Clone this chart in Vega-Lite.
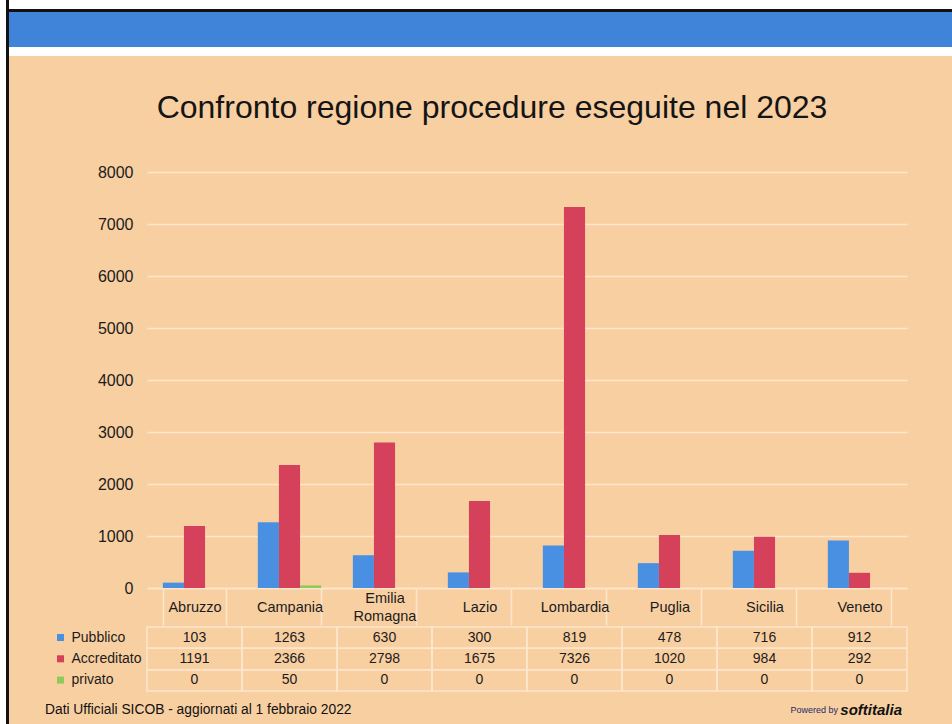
{
  "$schema": "https://vega.github.io/schema/vega-lite/v6.json",
  "padding": 0,
  "background": "#F8CFA1",
  "spacing": 0,
  "config": {
    "view": {"stroke": null},
    "font": "Liberation Sans",
    "axis": {"labelFont": "Liberation Sans", "labelColor": "#1c1c1c"},
    "legend": {"labelFont": "Liberation Sans"},
    "title": {"font": "Liberation Sans", "fontWeight": "normal", "fontSize": 32, "color": "#141414"},
    "text": {"font": "Liberation Sans", "color": "#1c1c1c"}
  },
  "datasets": {
    "procedure": [
      {"region": "Abruzzo", "series": "Pubblico", "value": 103},
      {"region": "Campania", "series": "Pubblico", "value": 1263},
      {"region": "Emilia Romagna", "series": "Pubblico", "value": 630},
      {"region": "Lazio", "series": "Pubblico", "value": 300},
      {"region": "Lombardia", "series": "Pubblico", "value": 819},
      {"region": "Puglia", "series": "Pubblico", "value": 478},
      {"region": "Sicilia", "series": "Pubblico", "value": 716},
      {"region": "Veneto", "series": "Pubblico", "value": 912},
      {"region": "Abruzzo", "series": "Accreditato", "value": 1191},
      {"region": "Campania", "series": "Accreditato", "value": 2366},
      {"region": "Emilia Romagna", "series": "Accreditato", "value": 2798},
      {"region": "Lazio", "series": "Accreditato", "value": 1675},
      {"region": "Lombardia", "series": "Accreditato", "value": 7326},
      {"region": "Puglia", "series": "Accreditato", "value": 1020},
      {"region": "Sicilia", "series": "Accreditato", "value": 984},
      {"region": "Veneto", "series": "Accreditato", "value": 292},
      {"region": "Abruzzo", "series": "privato", "value": 0},
      {"region": "Campania", "series": "privato", "value": 50},
      {"region": "Emilia Romagna", "series": "privato", "value": 0},
      {"region": "Lazio", "series": "privato", "value": 0},
      {"region": "Lombardia", "series": "privato", "value": 0},
      {"region": "Puglia", "series": "privato", "value": 0},
      {"region": "Sicilia", "series": "privato", "value": 0},
      {"region": "Veneto", "series": "privato", "value": 0}
    ],
    "note": [
      {"part": "fonte", "lato": "sinistra", "text": "Dati Ufficiali SICOB - aggiornati al 1 febbraio 2022"},
      {"part": "powered", "lato": "destra", "text": "Powered by"},
      {"part": "logo", "lato": "destra", "text": "softitalia"}
    ],
    "serie": [
      {"series": "Pubblico"},
      {"series": "Accreditato"},
      {"series": "privato"}
    ]
  },
  "hconcat": [
    {
      "width": 6, "height": 724,
      "data": {"values": [{}]},
      "mark": {"type": "rect", "opacity": 0},
      "encoding": {},
      "view": {"fill": "#ffffff", "stroke": null}
    },
    {
      "width": 3, "height": 724,
      "data": {"values": [{}]},
      "mark": {"type": "rect", "opacity": 0},
      "encoding": {},
      "view": {"fill": "#111111", "stroke": null}
    },
    {
      "spacing": 0,
      "vconcat": [
        {
          "width": 943, "height": 9,
          "data": {"values": [{}]},
          "mark": {"type": "rect", "opacity": 0},
          "encoding": {},
          "view": {"fill": "#ffffff", "stroke": null}
        },
        {
          "width": 943, "height": 3,
          "data": {"values": [{}]},
          "mark": {"type": "rect", "opacity": 0},
          "encoding": {},
          "view": {"fill": "#111111", "stroke": null}
        },
        {
          "width": 943, "height": 35,
          "data": {"values": [{}]},
          "mark": {"type": "rect", "opacity": 0},
          "encoding": {},
          "view": {"fill": "#3F84D9", "stroke": null}
        },
        {
          "width": 943, "height": 9,
          "data": {"values": [{}]},
          "mark": {"type": "rect", "opacity": 0},
          "encoding": {},
          "view": {"fill": "#ffffff", "stroke": null}
        },
        {
          "width": 943, "height": 36,
          "data": {"values": [{}]},
          "mark": {"type": "rect", "opacity": 0},
          "encoding": {}
        },
        {
          "spacing": 0,
          "hconcat": [
            {
              "width": 1, "height": 1,
              "data": {"values": [{}]},
              "mark": {"type": "rect", "opacity": 0},
              "encoding": {}
            },
            {
              "spacing": 0,
              "resolve": {"legend": {"color": "independent"}},
              "vconcat": [
                {
                  "width": 760, "height": 416,
                  "title": {"text": "Confronto regione procedure eseguite nel 2023", "frame": "group", "anchor": "middle", "dx": -35, "offset": 39},
                  "data": {"name": "procedure"},
                  "mark": {"type": "bar"},
                  "encoding": {
                    "x": {
                      "field": "region", "type": "nominal", "sort": null,
                      "scale": {"domain": ["Abruzzo", "Campania", "Emilia Romagna", "Lazio", "Lombardia", "Puglia", "Sicilia", "Veneto"], "paddingInner": 0.3333, "paddingOuter": 0.16667},
                      "axis": {
                        "title": null, "labelAngle": 0, "domain": true, "domainColor": "#FDE6CC", "domainWidth": 1.5,
                        "ticks": true, "tickBand": "extent", "tickSize": 37, "tickColor": "#FDE6CC", "tickWidth": 1.5,
                        "labelPadding": {"condition": {"test": "indexof(datum.label, ' ') > 0", "value": -27}, "value": -18},
                        "labelBaseline": "middle", "labelFontSize": 14.5, "labelLineHeight": 18,
                        "labelExpr": "split(datum.label, ' ')", "minExtent": 37, "maxExtent": 37, "grid": false
                      }
                    },
                    "xOffset": {"field": "series", "type": "nominal", "sort": null, "scale": {"domain": ["Pubblico", "Accreditato", "privato"]}},
                    "y": {
                      "field": "value", "type": "quantitative",
                      "scale": {"domain": [0, 8000], "nice": false},
                      "axis": {
                        "title": null, "values": [0, 1000, 2000, 3000, 4000, 5000, 6000, 7000, 8000], "format": "d",
                        "grid": true, "gridColor": "#FDE6CC", "gridWidth": 1.5, "domain": false, "ticks": false,
                        "labelPadding": 14, "labelFontSize": 16, "minExtent": 137, "maxExtent": 137
                      }
                    },
                    "color": {
                      "field": "series", "type": "nominal",
                      "scale": {"domain": ["Pubblico", "Accreditato", "privato"], "range": ["#4A90E2", "#D5405A", "#8FCB5B"]},
                      "legend": null
                    }
                  }
                },
                {
                  "width": 760, "height": 64,
                  "layer": [
                    {
                      "data": {"name": "procedure"},
                      "mark": {"type": "rect", "fill": "transparent", "stroke": "#FDE6CC", "strokeWidth": 1.5},
                      "encoding": {
                        "x": {"field": "region", "type": "nominal", "sort": null, "scale": {"domain": ["Abruzzo", "Campania", "Emilia Romagna", "Lazio", "Lombardia", "Puglia", "Sicilia", "Veneto"], "paddingInner": 0, "paddingOuter": 0}, "axis": null},
                        "y": {"field": "series", "type": "nominal", "sort": null, "scale": {"domain": ["Pubblico", "Accreditato", "privato"], "paddingInner": 0, "paddingOuter": 0}, "axis": null}
                      }
                    },
                    {
                      "data": {"name": "procedure"},
                      "mark": {"type": "text", "fontSize": 14},
                      "encoding": {
                        "x": {"field": "region", "type": "nominal", "sort": null},
                        "y": {"field": "series", "type": "nominal", "sort": null},
                        "text": {"field": "value", "type": "quantitative"}
                      }
                    },
                    {
                      "data": {"name": "serie"},
                      "mark": {"type": "square", "opacity": 0},
                      "encoding": {
                        "x": {"datum": "Abruzzo", "type": "nominal"},
                        "y": {"field": "series", "type": "nominal", "sort": null},
                        "color": {
                          "field": "series", "type": "nominal",
                          "scale": {"domain": ["Pubblico", "Accreditato", "privato"], "range": ["#4A90E2", "#D5405A", "#8FCB5B"]},
                          "legend": {
                            "title": null, "orient": "left", "offset": 1.5, "padding": 3.5,
                            "symbolType": "square", "symbolSize": 49, "symbolOpacity": 1, "symbolStrokeWidth": 0,
                            "labelFontSize": 14, "labelColor": "#1c1c1c", "labelOffset": 4, "rowPadding": 7.3
                          }
                        }
                      }
                    }
                  ]
                }
              ]
            }
          ]
        },
        {
          "width": 943, "height": 35,
          "data": {"name": "note"},
          "layer": [
            {
              "transform": [{"filter": "datum.part == 'fonte'"}],
              "mark": {"type": "text", "align": "left", "dx": -199.75, "fontSize": 13.8, "color": "#111111"},
              "encoding": {
                "x": {"field": "lato", "type": "nominal", "scale": {"domain": ["sinistra", "destra"], "paddingInner": 0, "paddingOuter": 0}, "axis": null},
                "text": {"field": "text", "type": "nominal"}
              }
            },
            {
              "transform": [{"filter": "datum.part == 'powered'"}],
              "mark": {"type": "text", "align": "right", "dx": 121.75, "fontSize": 9, "color": "#1d2a6b"},
              "encoding": {
                "x": {"field": "lato", "type": "nominal"},
                "text": {"field": "text", "type": "nominal"}
              }
            },
            {
              "transform": [{"filter": "datum.part == 'logo'"}],
              "mark": {"type": "text", "align": "right", "dx": 185.75, "fontSize": 15, "fontWeight": "bold", "fontStyle": "italic", "color": "#111111"},
              "encoding": {
                "x": {"field": "lato", "type": "nominal"},
                "text": {"field": "text", "type": "nominal"}
              }
            }
          ]
        }
      ]
    }
  ]
}
